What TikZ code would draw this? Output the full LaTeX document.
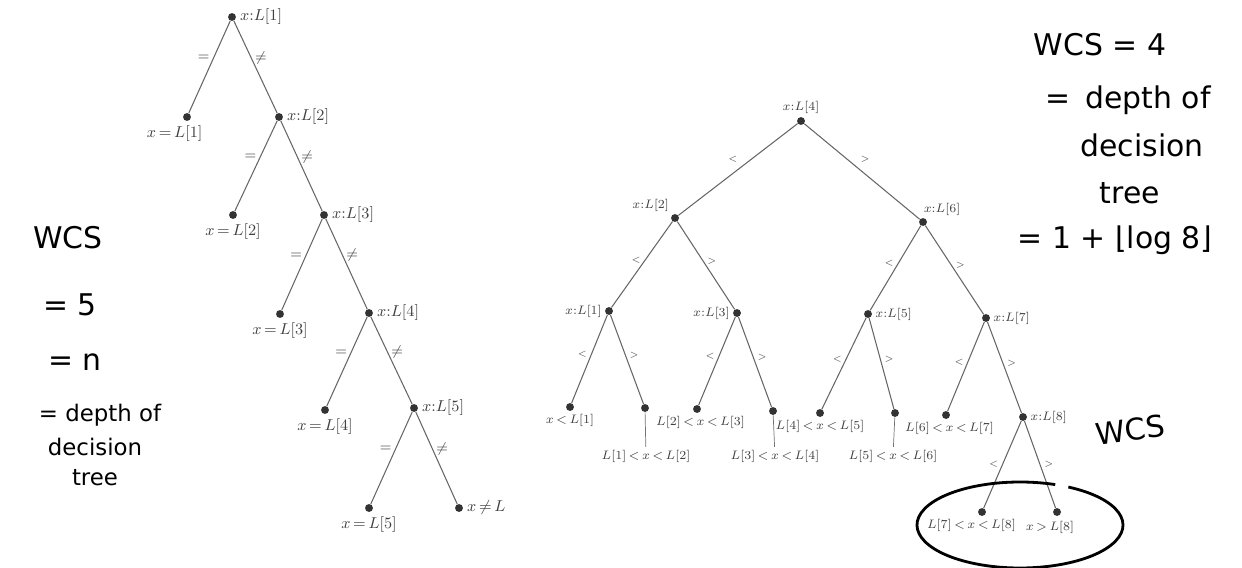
\documentclass[tikz,border=0pt]{standalone}
\usepackage{fontspec}
\setmainfont{Liberation Serif}
\newfontfamily\handfont{DejaVu Sans}
\newcommand{\lt}{\,{<}\,}
\newcommand{\gtr}{\,{>}\,}
\tikzset{
	dot/.style={circle, fill=black!80, inner sep=0pt, minimum size=4.5pt},
	branch/.style={draw=black!60, line width=0.6pt},
	lin/.style={text=black!75, font=\small, inner sep=2pt},
	bin/.style={text=black!75, font=\scriptsize, inner sep=1.5pt},
	cmp/.style={text=black!70, font=\footnotesize, inner sep=2pt},
	bcmp/.style={text=black!70, font=\tiny, inner sep=2pt},
	hand/.style={font=\handfont\fontsize{17}{19}\selectfont},
	handsm/.style={font=\handfont\fontsize{13}{15}\selectfont}
}

\begin{document}
\begin{tikzpicture}[x=0.02cm, y=-0.02cm]  % pixel-like grid, y downwards

\useasboundingbox (0,0) rectangle (1242,568);

% sequential search
\node[dot, label={[lin]right:$x{:}L[1]$}] (s1) at (232,17) {};
\node[dot, label={[lin]right:$x{:}L[2]$}] (s2) at (279,117) {};
\node[dot, label={[lin]right:$x{:}L[3]$}] (s3) at (324,215) {};
\node[dot, label={[lin]right:$x{:}L[4]$}] (s4) at (369,313) {};
\node[dot, label={[lin]right:$x{:}L[5]$}] (s5) at (414,408) {};

% leaves
\node[dot, label={[lin,xshift=-7pt]below:$x\,{=}\,L[1]$}] (e1) at (187,117) {};
\node[dot, label={[lin]below:$x\,{=}\,L[2]$}] (e2) at (233,215) {};
\node[dot, label={[lin]below:$x\,{=}\,L[3]$}] (e3) at (280,314) {};
\node[dot, label={[lin]below:$x\,{=}\,L[4]$}] (e4) at (325,410) {};
\node[dot, label={[lin]below:$x\,{=}\,L[5]$}] (e5) at (369,508) {};
\node[dot, label={[lin]right:$x\,{\neq}\,L$}] (e6) at (459,508) {};

% branches
\draw[branch] (s1) -- (e1) node[cmp, pos=0.4, left] {$=$};
\draw[branch] (s1) -- (s2) node[cmp, pos=0.4, right] {$\neq$};
\draw[branch] (s2) -- (e2) node[cmp, pos=0.4, left] {$=$};
\draw[branch] (s2) -- (s3) node[cmp, pos=0.4, right] {$\neq$};
\draw[branch] (s3) -- (e3) node[cmp, pos=0.4, left] {$=$};
\draw[branch] (s3) -- (s4) node[cmp, pos=0.4, right] {$\neq$};
\draw[branch] (s4) -- (e4) node[cmp, pos=0.4, left] {$=$};
\draw[branch] (s4) -- (s5) node[cmp, pos=0.4, right] {$\neq$};
\draw[branch] (s5) -- (e5) node[cmp, pos=0.4, left] {$=$};
\draw[branch] (s5) -- (e6) node[cmp, pos=0.4, right] {$\neq$};

% binary search
\node[dot, label={[bin]above:$x{:}L[4]$}] (r) at (801,121) {};
\node[dot, label={[bin]above left:$x{:}L[2]$}] (a) at (675,218) {};
\node[dot, label={[bin,xshift=-3pt]above right:$x{:}L[6]$}] (b) at (923,222) {};
\node[dot, label={[bin]left:$x{:}L[1]$}] (c) at (609,311) {};
\node[dot, label={[bin]left:$x{:}L[3]$}] (d) at (737,313) {};
\node[dot, label={[bin]right:$x{:}L[5]$}] (e) at (868,314) {};
\node[dot, label={[bin]right:$x{:}L[7]$}] (f) at (986,318) {};
\node[dot, label={[bin]right:$x{:}L[8]$}] (g) at (1023,417) {};

% leaves
\node[dot, label={[bin]below:$x\lt L[1]$}] (c1) at (570,407) {};
\node[dot] (c2) at (645,408) {};
\node[dot, label={[bin,xshift=2pt]below:$L[2]\lt x\lt L[3]$}] (d1) at (697,409) {};
\node[dot] (d2) at (773,411) {};
\node[dot, label={[bin]below:$L[4]\lt x\lt L[5]$}] (e1b) at (820,413) {};
\node[dot] (e2b) at (895,413) {};
\node[dot, label={[bin,xshift=2pt]below:$L[6]\lt x\lt L[7]$}] (f1) at (946,415) {};
\node[dot, label={[bin,xshift=-6pt]below:$L[7]\lt x\lt L[8]$}] (g1) at (982,512) {};
\node[dot] (g2) at (1057,512) {};

\node[bin] (c2t) at (646,456) {$L[1]\lt x\lt L[2]$};
\node[bin] (d2t) at (775,456) {$L[3]\lt x\lt L[4]$};
\node[bin] (e2t) at (893,456) {$L[5]\lt x\lt L[6]$};
\node[bin] (g2t) at (1050,527) {$x\gtr L[8]$};

% ticks to the lower labels
\draw[black!55, line width=0.4pt] (c2) -- (c2t);
\draw[black!55, line width=0.4pt] (d2) -- (d2t);
\draw[black!55, line width=0.4pt] (e2b) -- (e2t);

% branches
\draw[branch] (r) -- (a) node[bcmp, pos=0.47, above left] {$<$};
\draw[branch] (r) -- (b) node[bcmp, pos=0.45, above right] {$>$};
\draw[branch] (a) -- (c) node[bcmp, pos=0.45, left] {$<$};
\draw[branch] (a) -- (d) node[bcmp, pos=0.45, right] {$>$};
\draw[branch] (b) -- (e) node[bcmp, pos=0.45, left] {$<$};
\draw[branch] (b) -- (f) node[bcmp, pos=0.45, right] {$>$};
\draw[branch] (c) -- (c1) node[bcmp, pos=0.45, left] {$<$};
\draw[branch] (c) -- (c2) node[bcmp, pos=0.45, right] {$>$};
\draw[branch] (d) -- (d1) node[bcmp, pos=0.45, left] {$<$};
\draw[branch] (d) -- (d2) node[bcmp, pos=0.45, right] {$>$};
\draw[branch] (e) -- (e1b) node[bcmp, pos=0.45, left] {$<$};
\draw[branch] (e) -- (e2b) node[bcmp, pos=0.45, right] {$>$};
\draw[branch] (f) -- (f1) node[bcmp, pos=0.45, left] {$<$};
\draw[branch] (f) -- (g) node[bcmp, pos=0.45, right] {$>$};
\draw[branch] (g) -- (g1) node[bcmp, pos=0.5, left] {$<$};
\draw[branch] (g) -- (g2) node[bcmp, pos=0.5, right] {$>$};

% notes, left
\node[hand] (wl) at (68,238) {WCS};
\node[hand] (wl5) at (70,305) {= 5};
\node[hand] (wln) at (75,362) {= n};
\node[handsm] (wld) at (100,415) {= depth of};
\node[handsm] (wle) at (95,447) {decision};
\node[handsm] (wlt) at (95,478) {tree};

% notes, right
\node[hand] (wr) at (1100,45) {WCS = 4};
\node[hand] (wrd) at (1128,100) {=\enspace depth of};
\node[hand] (wre) at (1142,145) {decision};
\node[hand] (wrt) at (1130,193) {tree};
\node[hand] (wrl) at (1115,240) {= 1 + ⌊log 8⌋};
\node[hand, rotate=8] (wb) at (1130,430) {WCS};

% ring round the last leaves
\draw[line width=1.6pt] (1020,525) ++(-62:103 and 43)
  arc[start angle=-62, end angle=290, x radius=103, y radius=43];

\end{tikzpicture}
\end{document}
